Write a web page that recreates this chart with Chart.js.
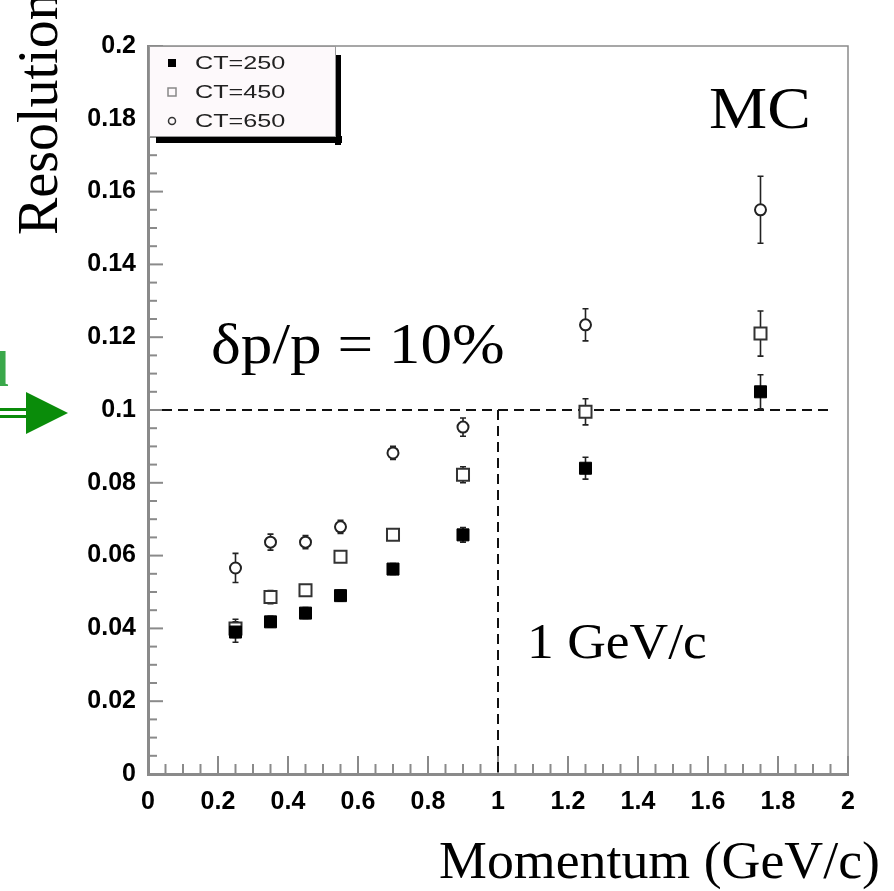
<!DOCTYPE html>
<html>
<head>
<meta charset="utf-8">
<script src="https://cdn.jsdelivr.net/npm/chart.js@4.4.1/dist/chart.umd.min.js"></script>
<style>
  body { margin: 0; background: #fff; }
  canvas { display: block; }
</style>
</head>
<body>
<canvas id="resChart" width="894" height="891"></canvas>
<script>
// momentum bins (GeV/c)
const momentum = [0.25, 0.35, 0.45, 0.55, 0.7, 0.9, 1.25, 1.75];

// resolution for each CT setting
const ct250 = [0.039, 0.0418, 0.0442, 0.049, 0.0563, 0.0657, 0.084, 0.105];
const ct450 = [0.040, 0.0486, 0.0505, 0.0597, 0.0657, 0.0822, 0.0995, 0.121];
const ct650 = [0.0566, 0.0637, 0.0637, 0.0679, 0.0882, 0.0953, 0.1234, 0.155];

// error bars (half width)
const err250 = [0.0028, 0.0015, 0.0015, 0.0015, 0.0015, 0.002, 0.003, 0.0047];
const err450 = [0.0025, 0.0018, 0.0015, 0.0015, 0.0015, 0.0022, 0.0036, 0.0062];
const err650 = [0.004, 0.0022, 0.0018, 0.0018, 0.0018, 0.0025, 0.0044, 0.0092];

const seriesLabels = ['CT=250', 'CT=450', 'CT=650'];
const xTickLabels = ['0', '0.2', '0.4', '0.6', '0.8', '1', '1.2', '1.4', '1.6', '1.8', '2'];
const yTickLabels = ['0', '0.02', '0.04', '0.06', '0.08', '0.1', '0.12', '0.14', '0.16', '0.18', '0.2'];

const toPoints = (ys, errs) => momentum.map((x, i) => ({ x: x, y: ys[i], e: errs[i] }));

const axisGray = '#8a8a8a';
const serif = '"Liberation Serif", "Times New Roman", serif';
const sans = '"Liberation Sans", Arial, Helvetica, sans-serif';

// text slightly stretched sideways, like the scanned original
function stretchText(ctx, text, x, y, font, sx, align) {
  ctx.save();
  ctx.font = font;
  ctx.textAlign = align || 'left';
  ctx.translate(x, y);
  ctx.scale(sx, 1);
  ctx.fillText(text, 0, 0);
  ctx.restore();
}

// error bars drawn under the markers
const errorBars = {
  id: 'errorBars',
  beforeDatasetsDraw(chart) {
    const ctx = chart.ctx;
    const xs = chart.scales.x, ys = chart.scales.y;
    ctx.save();
    ctx.strokeStyle = '#222';
    ctx.lineWidth = 1.6;
    chart.data.datasets.forEach(ds => {
      ds.data.forEach(p => {
        const px = xs.getPixelForValue(p.x);
        const top = ys.getPixelForValue(p.y + p.e);
        const bot = ys.getPixelForValue(p.y - p.e);
        ctx.beginPath();
        ctx.moveTo(px, top); ctx.lineTo(px, bot);
        ctx.moveTo(px - 3, top); ctx.lineTo(px + 3, top);
        ctx.moveTo(px - 3, bot); ctx.lineTo(px + 3, bot);
        ctx.stroke();
      });
    });
    ctx.restore();
  }
};

// frame, inner ticks, dashed guide lines, texts, legend, green arrow
const decorations = {
  id: 'decorations',
  beforeDatasetsDraw(chart) {
    const ctx = chart.ctx;
    const a = chart.chartArea;
    const xs = chart.scales.x, ys = chart.scales.y;
    ctx.save();

    // top and right frame
    ctx.strokeStyle = axisGray;
    ctx.lineWidth = 1.5;
    ctx.beginPath();
    ctx.moveTo(a.left, a.top); ctx.lineTo(a.right, a.top); ctx.lineTo(a.right, a.bottom);
    ctx.stroke();

    // inner ticks
    ctx.lineWidth = 2;
    for (let i = 0; i <= 40; i++) {
      const py = ys.getPixelForValue(i * 0.005);
      const len = i % 4 === 0 ? 15 : 9;
      ctx.beginPath(); ctx.moveTo(a.left, py); ctx.lineTo(a.left + len, py); ctx.stroke();
    }
    for (let i = 0; i <= 40; i++) {
      const px = xs.getPixelForValue(i * 0.05);
      const len = i % 4 === 0 ? 18 : 10;
      ctx.beginPath(); ctx.moveTo(px, a.bottom); ctx.lineTo(px, a.bottom - len); ctx.stroke();
    }

    // dashed guides at 10% and 1 GeV/c
    ctx.strokeStyle = '#111';
    ctx.lineWidth = 2;
    ctx.setLineDash([10, 6]);
    ctx.beginPath();
    ctx.moveTo(xs.getPixelForValue(0.04), ys.getPixelForValue(0.1));
    ctx.lineTo(xs.getPixelForValue(1.95), ys.getPixelForValue(0.1));
    ctx.moveTo(xs.getPixelForValue(1), ys.getPixelForValue(0.1));
    ctx.lineTo(xs.getPixelForValue(1), a.bottom);
    ctx.stroke();
    ctx.setLineDash([]);
    ctx.restore();
  },
  afterDraw(chart) {
    const ctx = chart.ctx;
    const a = chart.chartArea;
    ctx.save();
    ctx.fillStyle = '#000';
    ctx.textBaseline = 'alphabetic';

    // annotation texts
    stretchText(ctx, 'MC', 709, 128, '60px ' + serif, 1.09);
    stretchText(ctx, '\u03b4p/p = 10%', 211, 363, '58px ' + serif, 1.09);
    stretchText(ctx, '1 GeV/c', 527, 658, '50px ' + serif, 1.07);
    stretchText(ctx, 'Momentum (GeV/c)', 880, 878, '52px ' + serif, 1.035, 'right');

    // y axis title
    ctx.save();
    ctx.translate(57, 235);
    ctx.rotate(-Math.PI / 2);
    ctx.textAlign = 'left';
    ctx.font = '56px ' + serif;
    ctx.fillText('Resolution', 0, 0);
    ctx.restore();

    // legend box with shadow
    const lx = a.left + 1, ly = a.top, lw = 186, lh = 90;
    ctx.fillStyle = '#000';
    ctx.fillRect(lx + lw, ly + 9, 6, lh);
    ctx.fillRect(lx + 7, ly + lh, lw, 7);
    ctx.fillStyle = '#fdf9fb';
    ctx.fillRect(lx, ly, lw, lh);
    ctx.strokeStyle = '#999';
    ctx.lineWidth = 1;
    ctx.strokeRect(lx + 0.5, ly + 0.5, lw, lh);

    ctx.textBaseline = 'middle';
    chart.data.datasets.forEach((ds, i) => {
      const cy = ly + 17 + i * 29;
      const cx = lx + 23;
      ctx.lineWidth = 1.5;
      if (i === 0) {
        ctx.fillStyle = '#000';
        ctx.fillRect(cx - 4, cy - 4, 8, 8);
      } else if (i === 1) {
        ctx.strokeStyle = '#888';
        ctx.strokeRect(cx - 4, cy - 4, 8, 8);
      } else {
        ctx.strokeStyle = '#333';
        ctx.beginPath(); ctx.arc(cx, cy, 3.5, 0, Math.PI * 2); ctx.stroke();
      }
      ctx.fillStyle = '#222';
      stretchText(ctx, ds.label, lx + 46, cy + 1, '18px ' + sans, 1.4);
    });

    // green arrow on the left edge
    ctx.fillStyle = '#3aa84a';
    ctx.textBaseline = 'alphabetic';
    ctx.font = 'bold 50px ' + serif;
    ctx.textAlign = 'right';
    ctx.fillText('l', 9, 386);
    ctx.fillStyle = '#0a8c0a';
    ctx.fillRect(0, 408, 28, 3);
    ctx.fillRect(0, 415, 28, 3);
    ctx.beginPath();
    ctx.moveTo(26, 392); ctx.lineTo(68, 413); ctx.lineTo(26, 434);
    ctx.closePath();
    ctx.fill();
    ctx.restore();
  }
};

const ctx = document.getElementById('resChart').getContext('2d');
new Chart(ctx, {
  type: 'scatter',
  data: {
    datasets: [
      {
        label: seriesLabels[0],
        data: toPoints(ct250, err250),
        pointStyle: 'rect',
        pointRadius: 8.5,
        backgroundColor: '#000',
        borderColor: '#000',
        borderWidth: 1
      },
      {
        label: seriesLabels[1],
        data: toPoints(ct450, err450),
        pointStyle: 'rect',
        pointRadius: 8.5,
        backgroundColor: '#fff',
        borderColor: '#333',
        borderWidth: 2
      },
      {
        label: seriesLabels[2],
        data: toPoints(ct650, err650),
        pointStyle: 'circle',
        pointRadius: 5.5,
        backgroundColor: '#fff',
        borderColor: '#222',
        borderWidth: 2
      }
    ]
  },
  options: {
    responsive: false,
    animation: false,
    devicePixelRatio: 1,
    layout: { padding: { left: 0, right: 46, top: 46, bottom: 0 } },
    scales: {
      x: {
        type: 'linear',
        min: 0,
        max: 2,
        afterFit: s => { s.height = 117; },
        grid: { display: false },
        border: { display: true, color: axisGray, width: 3 },
        ticks: {
          stepSize: 0.2,
          autoSkip: false,
          maxRotation: 0,
          padding: 5,
          color: '#000',
          font: { family: sans, size: 25, weight: 'bold' },
          callback: (v, i) => xTickLabels[i]
        }
      },
      y: {
        type: 'linear',
        min: 0,
        max: 0.2,
        afterFit: s => { s.width = 148; },
        grid: { display: false },
        border: { display: true, color: axisGray, width: 3 },
        ticks: {
          stepSize: 0.02,
          autoSkip: false,
          padding: 4,
          color: '#000',
          font: { family: sans, size: 25, weight: 'bold' },
          callback: (v, i) => yTickLabels[i]
        }
      }
    },
    plugins: {
      legend: { display: false },
      tooltip: { enabled: false }
    }
  },
  plugins: [decorations, errorBars]
});
</script>
</body>
</html>
